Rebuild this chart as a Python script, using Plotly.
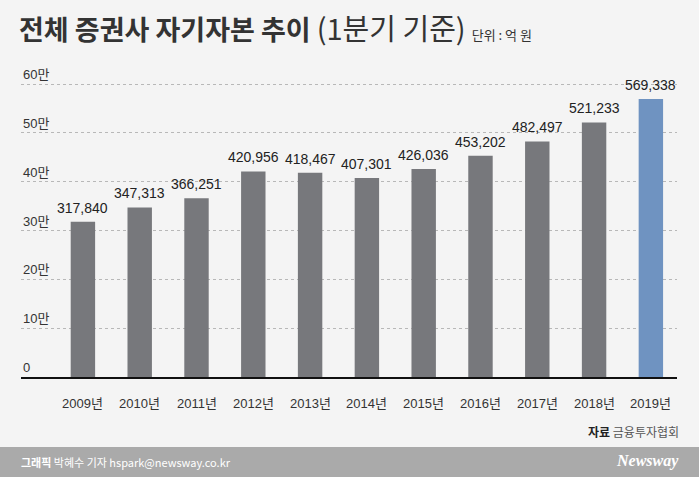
import plotly.graph_objects as go

years = ["2009년", "2010년", "2011년", "2012년", "2013년", "2014년",
         "2015년", "2016년", "2017년", "2018년", "2019년"]
capital = [317840, 347313, 366251, 420956, 418467, 407301,
           426036, 453202, 482497, 521233, 569338]
ytick_vals = [0, 100000, 200000, 300000, 400000, 500000, 600000]
ytick_text = ["0", "10만", "20만", "30만", "40만", "50만", "60만"]

GRAY = "#77787c"
BLUE = "#6f93c1"
BG = "#f4f4f4"
KR = "Noto Sans CJK KR"
NUM = "Liberation Sans, Noto Sans CJK KR"

W, H = 699, 477
L, R, T, B = 21, 22, 70, 100
PW, PH = W - L - R, H - T - B


def px(x):
    return (x - L) / PW


def py(y):
    return (H - B - y) / PH


colors = [GRAY] * (len(years) - 1) + [BLUE]
xs = list(range(len(years)))

fig = go.Figure()
fig.add_trace(go.Bar(x=xs, y=capital, marker=dict(color=colors, line=dict(width=0)),
                     width=0.43, hoverinfo="skip"))

ann = []
for i, v in enumerate(capital):
    ann.append(dict(x=i, y=v, xref="x", yref="y", text=f"{v:,}", showarrow=False,
                    yanchor="bottom", xanchor="center", yshift=4,
                    font=dict(family=NUM, size=14, color="#222222")))
    ann.append(dict(x=i, y=0, xref="x", yref="y", text=years[i], showarrow=False,
                    yanchor="top", xanchor="center", yshift=-17,
                    font=dict(family=NUM, size=13, color="#333333")))
for v, t in zip(ytick_vals, ytick_text):
    ann.append(dict(x=0, y=v, xref="paper", yref="y", text=t, showarrow=False,
                    yanchor="bottom", xanchor="left", yshift=0,
                    font=dict(family=NUM, size=13, color="#333333")))

# title
ann.append(dict(x=px(17), y=py(27), xref="paper", yref="paper", xanchor="left", yanchor="middle",
                showarrow=False,
                text="<b>전체 증권사 자기자본 추이</b> <span style='font-size:29px'>(1분기 기준)</span> <span style='font-size:13px'>단위 : 억 원</span>",
                font=dict(family=KR, size=27, color="#333333")))
# source
ann.append(dict(x=px(681), y=py(431), xref="paper", yref="paper", xanchor="right", yanchor="middle",
                showarrow=False,
                text="<b>자료</b> <span style='color:#555555'>금융투자협회</span>",
                font=dict(family=KR, size=12, color="#222222")))
# footer
ann.append(dict(x=px(19), y=py(462), xref="paper", yref="paper", xanchor="left", yanchor="middle",
                showarrow=False,
                text="<b>그래픽</b> 박혜수 기자 hspark@newsway.co.kr",
                font=dict(family=KR, size=11, color="#ffffff")))
ann.append(dict(x=px(681), y=py(461), xref="paper", yref="paper", xanchor="right", yanchor="middle",
                showarrow=False,
                text="<b><i>Newsway</i></b>",
                font=dict(family="Liberation Serif", size=16, color="#ffffff")))

shapes = [dict(type="rect", xref="paper", yref="paper", x0=px(-5), x1=px(W + 5),
               y0=py(447), y1=py(H + 5), fillcolor="#aaaaaa", line=dict(width=0), layer="below")]

fig.update_layout(
    width=W, height=H, margin=dict(l=L, r=R, t=T, b=B),
    paper_bgcolor=BG, plot_bgcolor=BG, showlegend=False,
    annotations=ann, shapes=shapes, bargap=0.57,
    xaxis=dict(range=[-1.09, 10.46], showticklabels=False, showgrid=False, zeroline=False,
               showline=True, linecolor="#111111", linewidth=2, ticks="", fixedrange=True),
    yaxis=dict(range=[0, 628700], tickvals=ytick_vals, showticklabels=False,
               showgrid=True, gridcolor="#b8b8b8", griddash="dot", gridwidth=1,
               zeroline=False, showline=False, ticks="", fixedrange=True),
)

fig.write_html("out.html", config={"displayModeBar": False})
